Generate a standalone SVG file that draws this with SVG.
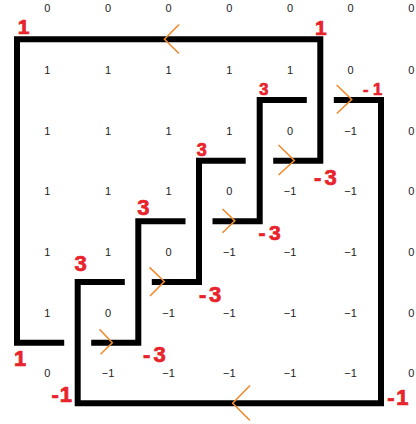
<svg xmlns="http://www.w3.org/2000/svg" width="416" height="424" viewBox="0 0 416 424">
<style>
.bg{fill:#ffffff}
.ln{fill:none;stroke:#000;stroke-width:6;stroke-linejoin:miter;stroke-linecap:butt}
.ar{fill:none;stroke:#F28A2E;stroke-width:1.6;stroke-linejoin:miter}
.n{font-family:"Liberation Sans",Arial,sans-serif;font-size:11px;fill:#222;text-anchor:middle}
.lb{font-family:"Liberation Sans",Arial,sans-serif;font-weight:bold;fill:#E8232B;stroke:#E8232B;stroke-width:0.7;text-anchor:middle}
</style>
<rect class="bg" x="0" y="0" width="416" height="424"/>
<g id="grid-values">
<text class="n" x="47.3" y="12.4">0</text><text class="n" x="108" y="12.4">0</text><text class="n" x="168.6" y="12.4">0</text><text class="n" x="229.3" y="12.4">0</text><text class="n" x="290" y="12.4">0</text><text class="n" x="350.6" y="12.4">0</text><text class="n" x="411.3" y="12.4">0</text>
<text class="n" x="47.3" y="74">1</text><text class="n" x="108" y="74">1</text><text class="n" x="168.6" y="74">1</text><text class="n" x="229.3" y="74">1</text><text class="n" x="290" y="74">1</text><text class="n" x="350.6" y="74">0</text><text class="n" x="411.3" y="74">0</text>
<text class="n" x="47.3" y="134.6">1</text><text class="n" x="108" y="134.6">1</text><text class="n" x="168.6" y="134.6">1</text><text class="n" x="229.3" y="134.6">1</text><text class="n" x="290" y="134.6">0</text><text class="n" x="350.6" y="134.6">−1</text><text class="n" x="411.3" y="134.6">0</text>
<text class="n" x="47.3" y="195.4">1</text><text class="n" x="108" y="195.4">1</text><text class="n" x="168.6" y="195.4">1</text><text class="n" x="229.3" y="195.4">0</text><text class="n" x="290" y="195.4">−1</text><text class="n" x="350.6" y="195.4">−1</text><text class="n" x="411.3" y="195.4">0</text>
<text class="n" x="47.3" y="256">1</text><text class="n" x="108" y="256">1</text><text class="n" x="168.6" y="256">0</text><text class="n" x="229.3" y="256">−1</text><text class="n" x="290" y="256">−1</text><text class="n" x="350.6" y="256">−1</text><text class="n" x="411.3" y="256">0</text>
<text class="n" x="47.3" y="316.6">1</text><text class="n" x="108" y="316.6">0</text><text class="n" x="168.6" y="316.6">−1</text><text class="n" x="229.3" y="316.6">−1</text><text class="n" x="290" y="316.6">−1</text><text class="n" x="350.6" y="316.6">−1</text><text class="n" x="411.3" y="316.6">0</text>
<text class="n" x="47.3" y="377.4">0</text><text class="n" x="108" y="377.4">−1</text><text class="n" x="168.6" y="377.4">−1</text><text class="n" x="229.3" y="377.4">−1</text><text class="n" x="290" y="377.4">−1</text><text class="n" x="350.6" y="377.4">−1</text><text class="n" x="411.3" y="377.4">0</text>
</g>
<g id="connectors">
<polyline class="ln" points="64.2,342.7 17,342.7 17,39.3 320.3,39.3 320.3,160.7 273.2,160.7"/>
<polyline class="ln" points="245.7,160.7 199,160.7 199,282 151.8,282"/>
<polyline class="ln" points="124.8,282 77.7,282 77.7,403.3 381,403.3 381,100 333.8,100"/>
<polyline class="ln" points="306.8,100 259.7,100 259.7,221.3 212.5,221.3"/>
<polyline class="ln" points="185.5,221.3 138.3,221.3 138.3,342.7 91.2,342.7"/>
<polyline class="ar" points="179,24.5 164.5,39.3 179,53.5"/>
<polyline class="ar" points="336.7,85 351.7,99.5 336.7,113.5"/>
<polyline class="ar" points="278.5,145 294.3,160.5 278.5,175"/>
<polyline class="ar" points="222.5,209 234.8,220.8 222.5,232.7"/>
<polyline class="ar" points="149.5,267.3 164.3,281.5 150,296"/>
<polyline class="ar" points="99.5,329.3 112.3,342.7 100.5,354.3"/>
<polyline class="ar" points="250,385.5 232.7,403.2 250,420.5"/>
</g>
<g id="labels">
<text class="lb" x="23.5" y="34.3" font-size="21">1</text>
<text class="lb" x="320.8" y="35" font-size="21">1</text>
<text class="lb" x="263.8" y="95" font-size="16.5">3</text>
<text class="lb" x="365.8 377.5" y="95" font-size="16.5">-1</text>
<text class="lb" x="201.7" y="156" font-size="18">3</text>
<text class="lb" x="317.6 330.5" y="185" font-size="22">-3</text>
<text class="lb" x="143.3" y="215" font-size="22">3</text>
<text class="lb" x="261.9 274.8" y="240" font-size="21">-3</text>
<text class="lb" x="80.5" y="270.7" font-size="22">3</text>
<text class="lb" x="202.6 215.2" y="302.3" font-size="22">-3</text>
<text class="lb" x="20.2" y="365.7" font-size="22">1</text>
<text class="lb" x="146.7 159.5" y="362.3" font-size="22">-3</text>
<text class="lb" x="55.2 65.8" y="401.7" font-size="22">-1</text>
<text class="lb" x="390.8 402.3" y="405" font-size="22">-1</text>
</g>
</svg>
